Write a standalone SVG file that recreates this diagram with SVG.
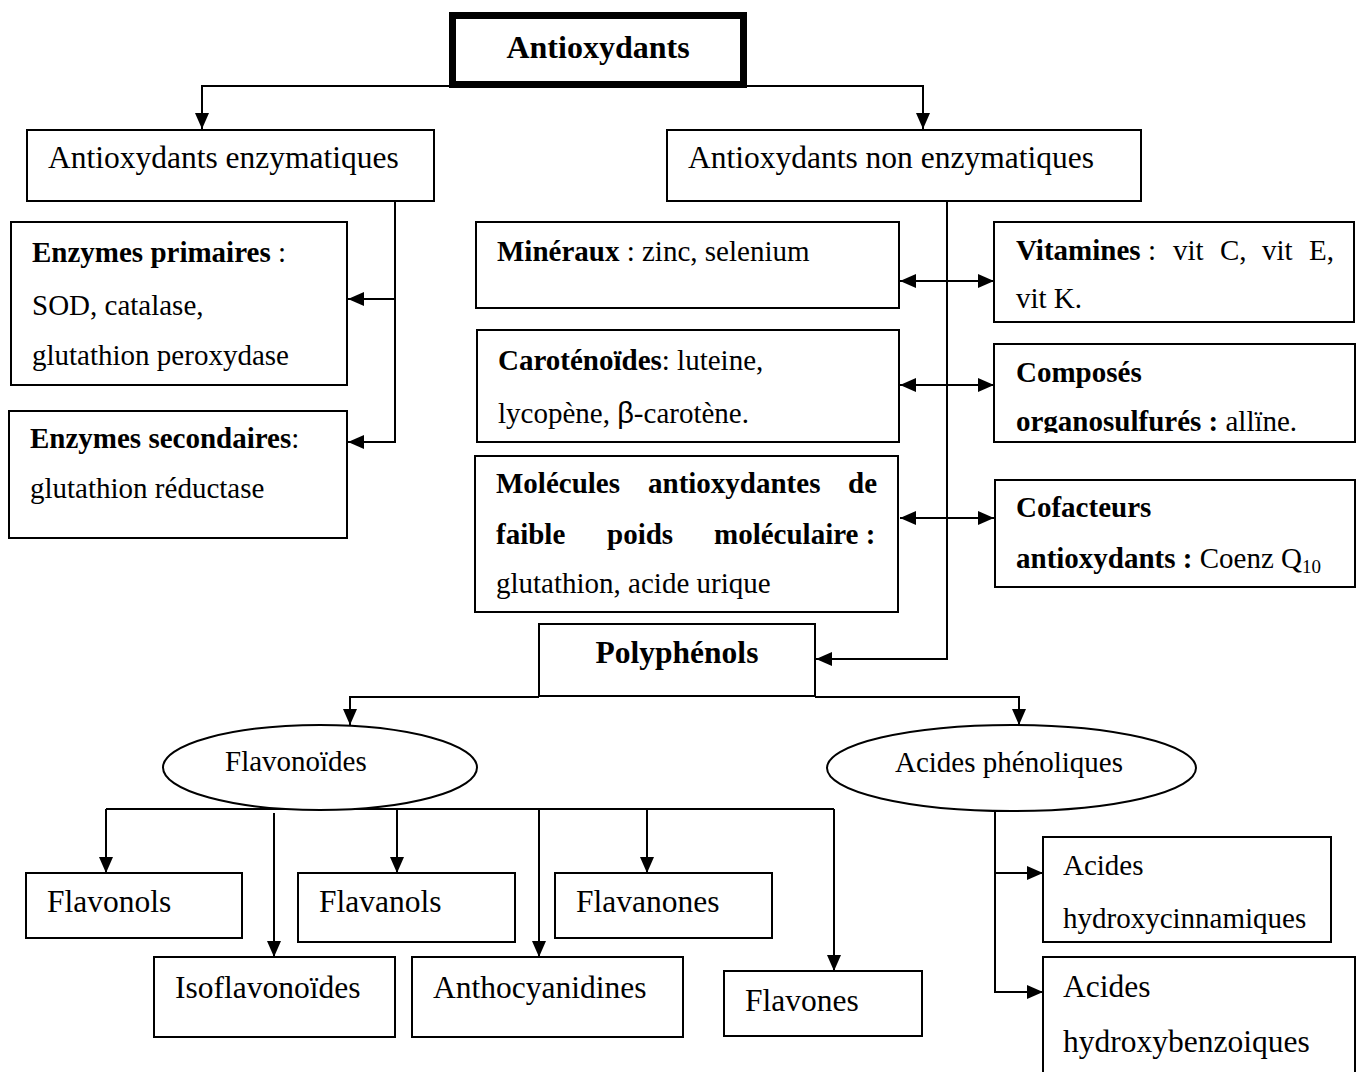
<svg xmlns="http://www.w3.org/2000/svg" width="1358" height="1072" viewBox="0 0 1358 1072">
<style>
  .box{fill:#fff;stroke:#000;stroke-width:2}
  .ell{fill:#fff;stroke:#000;stroke-width:2}
  .t{font-family:"Liberation Serif","Times New Roman",serif;fill:#000}
  .b{font-weight:bold}
  .s29{font-size:29px}
  .s31{font-size:31.5px}
  .c{fill:none;stroke:#000;stroke-width:2}
  .a{marker-end:url(#arr)}
  .d{marker-end:url(#arr);marker-start:url(#arr)}
</style>
<defs>
  <marker id="arr" markerUnits="userSpaceOnUse" markerWidth="16" markerHeight="14" viewBox="0 0 16 14" refX="16" refY="7" orient="auto-start-reverse">
    <path d="M0,0 L16,7 L0,14 z" fill="#000"/>
  </marker>
  <clipPath id="clipOrg"><rect x="994" y="340" width="362" height="93"/></clipPath>
</defs>
<rect width="1358" height="1072" fill="#fff"/>

<g id="connectors">
  <path class="c a" d="M452,86 H202 V129"/>
  <path class="c a" d="M744,86 H923 V129"/>
  <path class="c a" d="M395,201 V442 H348"/>
  <path class="c a" d="M395,299 H348"/>
  <path class="c a" d="M947,201 V659 H816"/>
  <path class="c d" d="M900,281 H994"/>
  <path class="c d" d="M900,385 H994"/>
  <path class="c d" d="M900,518 H994"/>
  <path class="c a" d="M539,697 H350 V725"/>
  <path class="c a" d="M815,697 H1019 V725"/>
  <path class="c" d="M106,809 H834"/>
  <path class="c a" d="M106,809 V873"/>
  <path class="c a" d="M274,813 V957"/>
  <path class="c a" d="M397,809 V873"/>
  <path class="c a" d="M539,809 V957"/>
  <path class="c a" d="M647,809 V873"/>
  <path class="c a" d="M834,809 V971"/>
  <path class="c a" d="M995,811 V992 H1043"/>
  <path class="c a" d="M995,873 H1043"/>
</g>

<g id="n-antioxydants">
  <rect x="452.5" y="15.5" width="291" height="69" fill="#fff" stroke="#000" stroke-width="7"/>
  <text class="t b" x="598" y="58" font-size="32" text-anchor="middle">Antioxydants</text>
</g>

<g id="n-enzymatiques">
  <rect class="box" x="27" y="130" width="407" height="71"/>
  <text class="t s31" x="48" y="168">Antioxydants enzymatiques</text>
</g>

<g id="n-non-enzymatiques">
  <rect class="box" x="667" y="130" width="474" height="71"/>
  <text class="t s31" x="688" y="168">Antioxydants non enzymatiques</text>
</g>

<g id="n-enzymes-primaires">
  <rect class="box" x="11" y="222" width="336" height="163"/>
  <text class="t s29" x="32" y="262"><tspan class="b">Enzymes primaires</tspan> :</text>
  <text class="t s29" x="32" y="315">SOD, catalase,</text>
  <text class="t s29" x="32" y="365">glutathion peroxydase</text>
</g>

<g id="n-enzymes-secondaires">
  <rect class="box" x="9" y="411" width="338" height="127"/>
  <text class="t s29" x="30" y="448"><tspan class="b">Enzymes secondaires</tspan>:</text>
  <text class="t s29" x="30" y="498">glutathion réductase</text>
</g>

<g id="n-mineraux">
  <rect class="box" x="476" y="222" width="423" height="86"/>
  <text class="t s29" x="497" y="261"><tspan class="b">Minéraux</tspan> : zinc, selenium</text>
</g>

<g id="n-carotenoides">
  <rect class="box" x="477" y="330" width="422" height="112"/>
  <text class="t s29" x="498" y="370"><tspan class="b">Caroténoïdes</tspan>: luteine,</text>
  <text class="t s29" x="498" y="423">lycopène, <tspan font-family="'Liberation Sans',Arial,sans-serif">β</tspan>-carotène.</text>
</g>

<g id="n-molecules">
  <rect class="box" x="475" y="456" width="423" height="156"/>
  <text class="t s29 b" y="493"><tspan x="496">Molécules</tspan><tspan x="648">antioxydantes</tspan><tspan x="848">de</tspan></text>
  <text class="t s29 b" y="544"><tspan x="496">faible</tspan><tspan x="607">poids</tspan><tspan x="714">moléculaire :</tspan></text>
  <text class="t s29" x="496" y="593">glutathion, acide urique</text>
</g>

<g id="n-vitamines">
  <rect class="box" x="994" y="222" width="360" height="100"/>
  <text class="t s29" y="260"><tspan class="b" x="1016">Vitamines</tspan><tspan x="1148">:</tspan><tspan x="1173">vit</tspan><tspan x="1220">C,</tspan><tspan x="1262">vit</tspan><tspan x="1309">E,</tspan></text>
  <text class="t s29" x="1016" y="308">vit K.</text>
</g>

<g id="n-composes">
  <rect class="box" x="994" y="344" width="361" height="98"/>
  <text class="t s29 b" x="1016" y="382">Composés</text>
  <text class="t s29" x="1016" y="431" clip-path="url(#clipOrg)"><tspan class="b">organosulfurés :</tspan> allïne.</text>
</g>

<g id="n-cofacteurs">
  <rect class="box" x="995" y="480" width="360" height="107"/>
  <text class="t s29 b" x="1016" y="517">Cofacteurs</text>
  <text class="t s29" x="1016" y="568"><tspan class="b">antioxydants :</tspan> Coenz Q<tspan font-size="19" dy="5">10</tspan></text>
</g>

<g id="n-polyphenols">
  <rect class="box" x="539" y="624" width="276" height="72"/>
  <text class="t b" x="677" y="663" font-size="31.5" text-anchor="middle">Polyphénols</text>
</g>

<g id="n-flavonoides">
  <ellipse class="ell" cx="320" cy="767.5" rx="157" ry="42.5"/>
  <text class="t s29" x="225" y="771">Flavonoïdes</text>
</g>

<g id="n-acides-phenoliques">
  <ellipse class="ell" cx="1011.5" cy="768" rx="184.5" ry="43"/>
  <text class="t s29" x="895" y="772">Acides phénoliques</text>
</g>

<g id="n-flavonols">
  <rect class="box" x="26" y="873" width="216" height="65"/>
  <text class="t s31" x="47" y="912">Flavonols</text>
</g>

<g id="n-flavanols">
  <rect class="box" x="298" y="873" width="217" height="69"/>
  <text class="t s31" x="319" y="912">Flavanols</text>
</g>

<g id="n-flavanones">
  <rect class="box" x="555" y="873" width="217" height="65"/>
  <text class="t s31" x="576" y="912">Flavanones</text>
</g>

<g id="n-isoflavonoides">
  <rect class="box" x="154" y="957" width="241" height="80"/>
  <text class="t s31" x="175" y="998">Isoflavonoïdes</text>
</g>

<g id="n-anthocyanidines">
  <rect class="box" x="412" y="957" width="271" height="80"/>
  <text class="t s31" x="433" y="998">Anthocyanidines</text>
</g>

<g id="n-flavones">
  <rect class="box" x="724" y="971" width="198" height="65"/>
  <text class="t s31" x="745" y="1011">Flavones</text>
</g>

<g id="n-hydroxycinnamiques">
  <rect class="box" x="1043" y="837" width="288" height="105"/>
  <text class="t s29" x="1063" y="875">Acides</text>
  <text class="t s29" x="1063" y="928">hydroxycinnamiques</text>
</g>

<g id="n-hydroxybenzoiques">
  <rect class="box" x="1043" y="957" width="312" height="125"/>
  <text class="t s31" x="1063" y="997">Acides</text>
  <text class="t s31" x="1063" y="1052">hydroxybenzoiques</text>
</g>
</svg>
